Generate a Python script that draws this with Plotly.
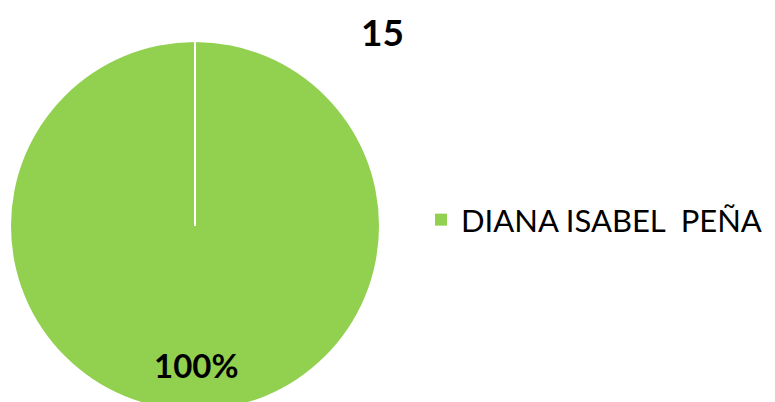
import plotly.graph_objects as go

labels = ["DIANA ISABEL  PEÑA"]
values = [15]
title_text = "15"
colors = ["#92D050"]

W, H = 775, 402
OFF = 8  # page body margin
total = sum(values)
pct_text = f"{round(values[0] / total * 100)}%"

def px(x):
    return (x - OFF) / W

def py(y):
    return 1 - (y - OFF) / H

R = 184
CX, TOP = 195, 42
fig = go.Figure()
fig.add_trace(go.Pie(
    labels=labels,
    values=values,
    marker=dict(colors=colors, line=dict(color="white", width=0)),
    textinfo="none",
    sort=False,
    direction="clockwise",
    rotation=0,
    domain=dict(x=[px(CX - R), px(CX + R)], y=[py(TOP + 2 * R), py(TOP)]),
    hoverinfo="label+percent",
))

fig.add_shape(type="line", xref="paper", yref="paper",
              x0=px(CX), x1=px(CX), y0=py(TOP + R), y1=py(TOP),
              line=dict(color="white", width=2))

fig.add_annotation(text=f"<b>{pct_text}</b>", xref="paper", yref="paper",
                   x=px(196), y=py(365), xanchor="center", yanchor="middle",
                   showarrow=False, font=dict(size=33, color="black", family="Lato"))

fig.add_annotation(text=f"<b>{title_text}</b>", xref="paper", yref="paper",
                   x=px(382), y=py(31.5), xanchor="center", yanchor="middle",
                   showarrow=False, font=dict(size=37, color="black", family="Lato"))

fig.update_layout(
    width=W, height=H,
    margin=dict(l=0, r=0, t=0, b=0),
    paper_bgcolor="white",
    plot_bgcolor="white",
    font=dict(family="Lato", color="black"),
    showlegend=True,
    legend=dict(x=px(421), xanchor="left", y=py(220), yanchor="middle",
                font=dict(size=31, family="Lato", color="black"),
                bgcolor="rgba(0,0,0,0)"),
)

fig.write_html("out.html")
